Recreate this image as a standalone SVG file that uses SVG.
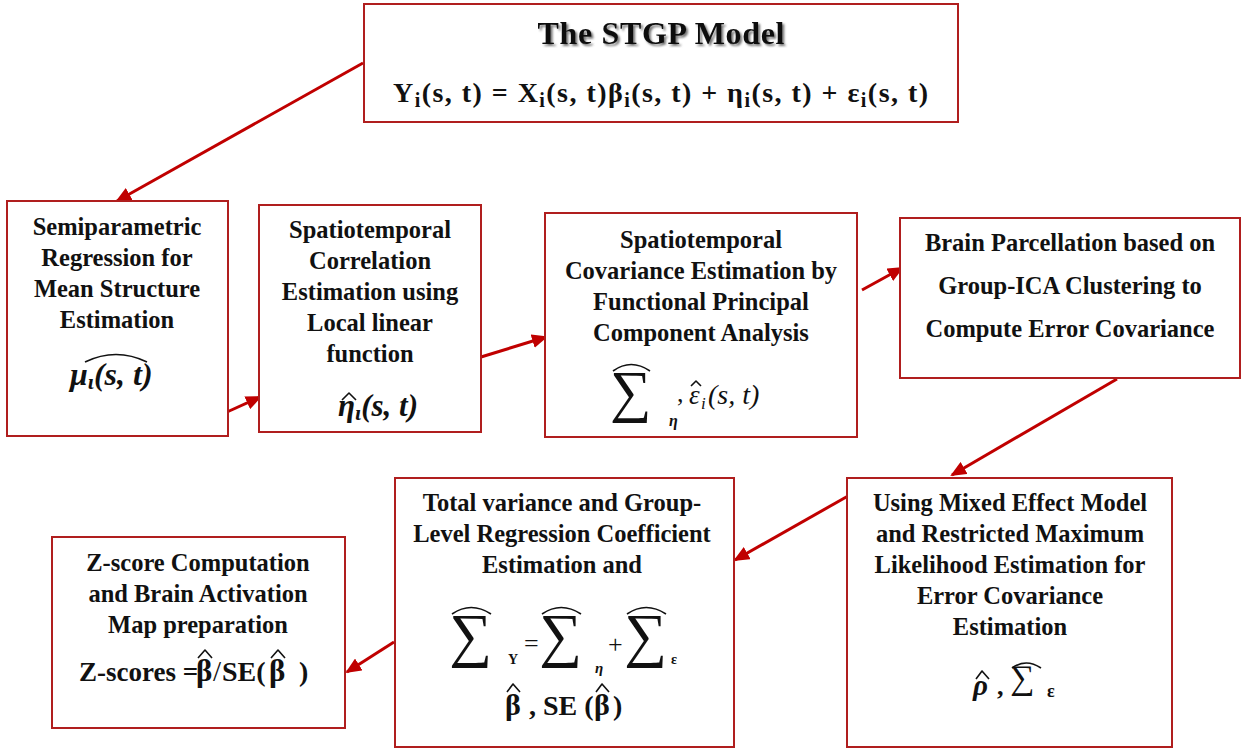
<svg xmlns="http://www.w3.org/2000/svg" width="1241" height="749" viewBox="0 0 1241 749">
<style>
.box{fill:#fff;stroke:#b01e1e;stroke-width:2}
.t{font-family:"Liberation Serif","Times New Roman",serif;font-weight:bold;font-size:24.5px;fill:#111;text-anchor:middle}
.m{font-family:"Liberation Serif","Times New Roman",serif;font-weight:bold;font-style:italic;fill:#111}
.s{font-family:"Liberation Serif","Times New Roman",serif;fill:#111}
.hat{fill:none;stroke:#111;stroke-width:1.6;stroke-linejoin:round}
.c{stroke:#c00000;stroke-width:3;fill:none}
</style>
<defs>
<marker id="ah" markerUnits="userSpaceOnUse" markerWidth="16" markerHeight="14" refX="14" refY="7" orient="auto">
<path d="M0,0 L16,7 L0,14 z" fill="#c00000"/>
</marker>
<filter id="sh" x="-10%" y="-30%" width="120%" height="160%">
<feDropShadow dx="2" dy="2" stdDeviation="1" flood-color="#555" flood-opacity="0.8"/>
</filter>
</defs>
<rect width="1241" height="749" fill="#fff"/>

<g id="connectors">
<line class="c" x1="363" y1="63" x2="117" y2="201" marker-end="url(#ah)"/>
<line class="c" x1="227" y1="412" x2="260" y2="397" marker-end="url(#ah)"/>
<line class="c" x1="481" y1="357" x2="546" y2="337" marker-end="url(#ah)"/>
<line class="c" x1="862" y1="290" x2="902" y2="268" marker-end="url(#ah)"/>
<line class="c" x1="1117" y1="379" x2="952" y2="475" marker-end="url(#ah)"/>
<line class="c" x1="848" y1="496" x2="735" y2="560" marker-end="url(#ah)"/>
<line class="c" x1="394" y1="642" x2="347" y2="672" marker-end="url(#ah)"/>
</g>

<g id="stgp">
<rect class="box" x="364" y="4" width="594" height="118"/>
<text class="t" x="661" y="44" style="font-size:32px" textLength="247" filter="url(#sh)">The STGP Model</text>
<text class="s" x="393" y="102" style="font-size:28px;font-weight:bold" textLength="535" lengthAdjust="spacing">Y<tspan dy="5" font-size="20">i</tspan><tspan dy="-5">(s, t) = X</tspan><tspan dy="5" font-size="20">i</tspan><tspan dy="-5">(s, t)β</tspan><tspan dy="5" font-size="20">i</tspan><tspan dy="-5">(s, t) + η</tspan><tspan dy="5" font-size="20">i</tspan><tspan dy="-5">(s, t) + ε</tspan><tspan dy="5" font-size="20">i</tspan><tspan dy="-5">(s, t)</tspan></text>
</g>

<g id="n1">
<rect class="box" x="7" y="201" width="221" height="235"/>
<text class="t" x="117" y="235">Semiparametric</text>
<text class="t" x="117" y="266">Regression for</text>
<text class="t" x="117" y="297">Mean Structure</text>
<text class="t" x="117" y="328">Estimation</text>
<text class="m" x="70" y="385" style="font-size:32px">μ<tspan dy="4" font-size="22">ι</tspan><tspan dy="-4">(s, t)</tspan></text>
<path class="hat" d="M85,362 Q116,347 147,362"/>
</g>

<g id="n2">
<rect class="box" x="259" y="205" width="222" height="227"/>
<text class="t" x="370" y="238">Spatiotemporal</text>
<text class="t" x="370" y="269">Correlation</text>
<text class="t" x="370" y="300">Estimation using</text>
<text class="t" x="370" y="331">Local linear</text>
<text class="t" x="370" y="362">function</text>
<text class="m" x="338" y="416" style="font-size:31px">η<tspan dy="4" font-size="22">ι</tspan><tspan dy="-4">(s, t)</tspan></text>
<path class="hat" d="M342,400 L349,393 L356,400"/>
</g>

<g id="n3">
<rect class="box" x="545" y="213" width="312" height="224"/>
<text class="t" x="701" y="248">Spatiotemporal</text>
<text class="t" x="701" y="279">Covariance Estimation by</text>
<text class="t" x="701" y="310">Functional Principal</text>
<text class="t" x="701" y="341">Component Analysis</text>
<text class="s" x="610" y="411" style="font-size:58px">∑</text>
<path class="hat" d="M613,371 Q631,358 650,371"/>
<text class="s" x="669" y="426" style="font-size:16px;font-style:italic;font-weight:bold">η</text>
<text class="s" x="677" y="402" style="font-size:26px">,</text>
<text class="s" x="689" y="404" style="font-size:27px;font-style:italic">ε</text>
<path class="hat" d="M691,386 L696,381 L701,386"/>
<text class="s" x="701" y="409" style="font-size:17px;font-style:italic">i</text>
<text class="s" x="708" y="404" style="font-size:28px;font-style:italic">(s, t)</text>
</g>

<g id="n4">
<rect class="box" x="900" y="218" width="340" height="160"/>
<text class="t" x="1070" y="251">Brain Parcellation based on</text>
<text class="t" x="1070" y="294">Group-ICA Clustering to</text>
<text class="t" x="1070" y="337">Compute Error Covariance</text>
</g>

<g id="n6">
<rect class="box" x="847" y="478" width="325" height="269"/>
<text class="t" x="1010" y="511">Using Mixed Effect Model</text>
<text class="t" x="1010" y="542">and Restricted Maximum</text>
<text class="t" x="1010" y="573">Likelihood Estimation for</text>
<text class="t" x="1010" y="604">Error Covariance</text>
<text class="t" x="1010" y="635">Estimation</text>
<text class="m" x="973" y="695" style="font-size:29px">ρ</text>
<path class="hat" d="M976,679 L982,671 L989,679"/>
<text class="s" x="997" y="695" style="font-size:26px;font-weight:bold">,</text>
<text class="s" x="1010" y="689" style="font-size:34px">∑</text>
<path class="hat" d="M1012,668 Q1026,658 1041,668"/>
<text class="s" x="1047" y="697" style="font-size:18px;font-weight:bold">ε</text>
</g>

<g id="n5">
<rect class="box" x="395" y="478" width="339" height="269"/>
<text class="t" x="562" y="511">Total variance and Group-</text>
<text class="t" x="562" y="542">Level Regression Coefficient</text>
<text class="t" x="562" y="573">Estimation and</text>
<text class="s" x="449" y="655" style="font-size:60px">∑</text>
<path class="hat" d="M452,614 Q471,601 491,614"/>
<text class="s" x="508" y="664" style="font-size:14px;font-weight:bold">Y</text>
<text class="s" x="524" y="652" style="font-size:26px">=</text>
<text class="s" x="539" y="655" style="font-size:60px">∑</text>
<path class="hat" d="M542,614 Q561,601 581,614"/>
<text class="s" x="595" y="673" style="font-size:15px;font-style:italic;font-weight:bold">η</text>
<text class="s" x="608" y="653" style="font-size:26px">+</text>
<text class="s" x="624" y="655" style="font-size:60px">∑</text>
<path class="hat" d="M627,614 Q646,601 666,614"/>
<text class="s" x="671" y="664" style="font-size:14px;font-weight:bold">ε</text>
<text class="s" x="505" y="715" style="font-size:30px;font-weight:bold">β</text>
<path class="hat" d="M507,692 L513,684 L520,692"/>
<text class="s" x="529" y="715" style="font-size:28px;font-weight:bold">, SE (</text>
<text class="s" x="594" y="715" style="font-size:30px;font-weight:bold">β</text>
<path class="hat" d="M596,692 L602,684 L609,692"/>
<text class="s" x="613" y="715" style="font-size:28px;font-weight:bold">)</text>
</g>

<g id="n7">
<rect class="box" x="52" y="537" width="293" height="191"/>
<text class="t" x="198" y="571">Z-score Computation</text>
<text class="t" x="198" y="602">and Brain Activation</text>
<text class="t" x="198" y="633">Map preparation</text>
<text class="s" x="79" y="681" style="font-size:27px;font-weight:bold">Z-scores =</text>
<text class="s" x="196" y="681" style="font-size:31px;font-weight:bold">β</text>
<path class="hat" d="M198,658 L205,650 L212,658"/>
<text class="s" x="213" y="681" style="font-size:29px">/</text>
<text class="s" x="222" y="681" style="font-size:28px;font-weight:bold">SE(</text>
<text class="s" x="269" y="681" style="font-size:31px;font-weight:bold">β</text>
<path class="hat" d="M271,658 L278,650 L285,658"/>
<text class="s" x="299" y="681" style="font-size:28px;font-weight:bold">)</text>
</g>
</svg>
